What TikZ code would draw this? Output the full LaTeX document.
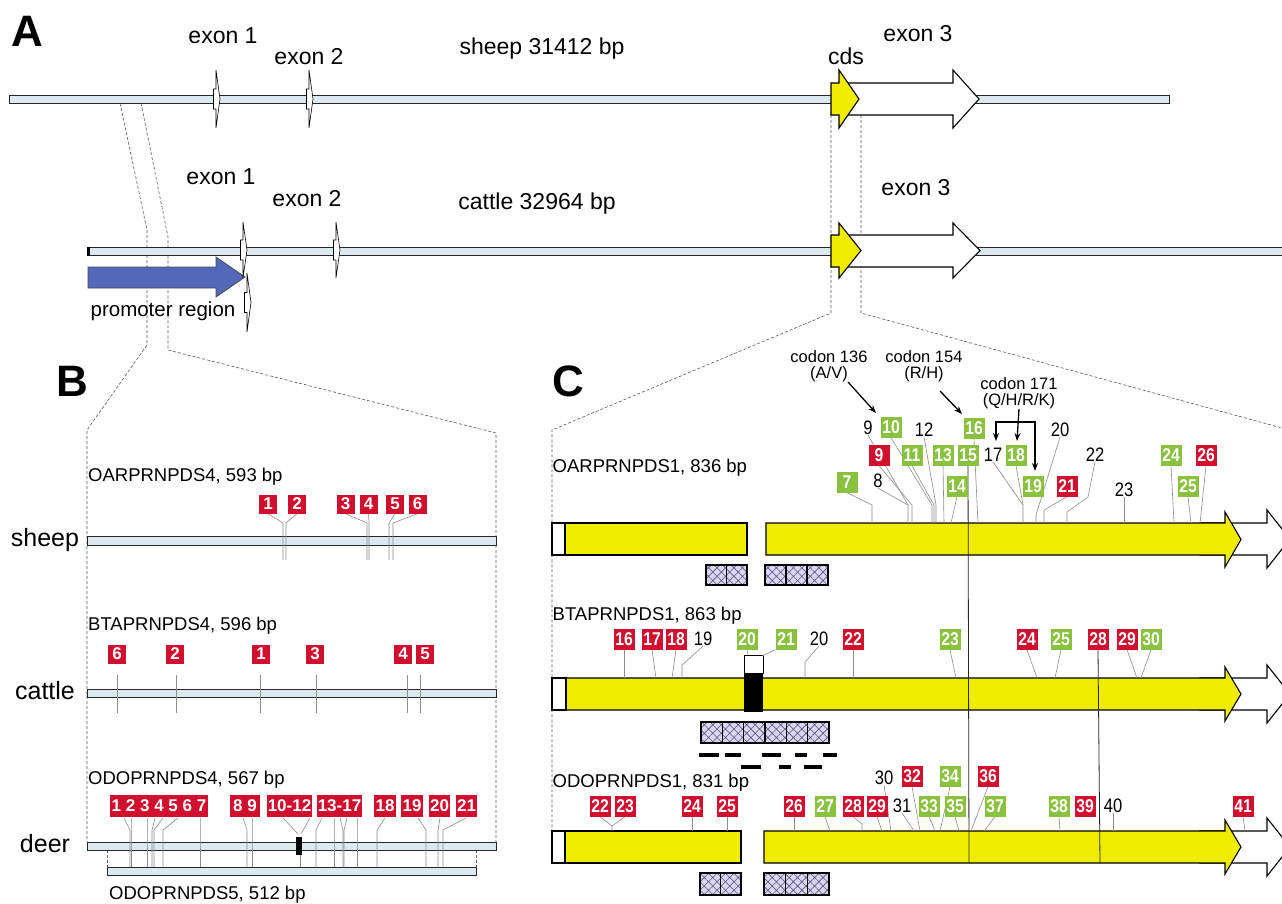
\documentclass[tikz,border=0pt]{standalone}
\usepackage{fontspec}
\setmainfont{Liberation Sans}
\newfontfamily\nbf{Liberation Sans}[FakeStretch=0.85]
\usetikzlibrary{patterns.meta,arrows.meta}
\definecolor{barfill}{RGB}{220,234,240}
\definecolor{myred}{RGB}{208,16,46}
\definecolor{mygreen}{RGB}{138,194,64}
\definecolor{myyellow}{RGB}{240,236,0}
\definecolor{promblue}{RGB}{82,104,184}
\definecolor{hatchfill}{RGB}{218,214,236}
\definecolor{hatchline}{RGB}{92,82,140}
\pgfdeclarelayer{bg}
\pgfdeclarelayer{lead}
\pgfsetlayers{bg,lead,main}
\newcommand\exmk[3]{\draw[exon] ({#1-2.5},{(#2+#3)/2-10}) -- (#1,{(#2+#3)/2-10}) -- (#1,#2) -- ({#1+4},{(#2+#3)/2}) -- (#1,#3) -- (#1,{(#2+#3)/2+10}) -- ({#1-2.5},{(#2+#3)/2+10}) -- cycle;}
\newcommand\blockarrow[8]{\draw[#1] (#2,#5) -- (#3,#5) -- (#3,#7) -- (#4,{(#7+#8)/2}) -- (#3,#8) -- (#3,#6) -- (#2,#6) -- cycle;}
\newcommand\hatchrow[5]{\foreach \i in {1,...,#3}{%
  \fill[hatchfill] ({#1+(\i-1)*#4},#2) rectangle ++(#4,#5);
  \fill[pattern={Hatch[angle=45,distance=6pt,line width=0.6pt]},pattern color=hatchline] ({#1+(\i-1)*#4},#2) rectangle ++(#4,#5);
  \draw[line width=1.2pt] ({#1+(\i-1)*#4},#2) rectangle ++(#4,#5);}}
\newcommand\mkr[5][rbc]{\node[#1] (#2) at (#3,#4) {#5};}
\begin{document}
\begin{tikzpicture}[x=1pt,y=-1pt,
  gbar/.style={draw=black!85, fill=barfill, line width=1pt},
  exon/.style={fill=white, draw=black, line width=0.6pt},
  bigarr/.style={draw=black, line width=1.1pt, line join=miter},
  yel/.style={bigarr, fill=myyellow},
  wht/.style={bigarr, fill=white},
  lbl/.style={font=\fontsize{23}{23}\selectfont, inner sep=0pt},
  plab/.style={font=\bfseries\fontsize{44}{44}\selectfont, inner sep=0pt},
  spc/.style={font=\fontsize{25}{25}\selectfont, inner sep=0pt},
  acc/.style={font=\fontsize{18.5}{18.5}\selectfont, inner sep=0pt, anchor=west},
  rbb/.style={fill=myred, text=white, font=\bfseries\fontsize{17}{17}\selectfont, inner sep=0pt, minimum width=18, minimum height=19},
  rbc/.style={fill=myred, text=white, font=\nbf\bfseries\fontsize{18.5}{18.5}\selectfont, inner sep=0pt, minimum width=21, minimum height=21},
  gbc/.style={rbc, fill=mygreen},
  nm/.style={font=\nbf\fontsize{19.5}{19.5}\selectfont, inner sep=0pt},
  lead/.style={draw=black!45, line width=0.6pt},
  vline/.style={draw=black!85, line width=0.8pt},
  dsh/.style={draw=black!65, dash pattern=on 3pt off 2pt, line width=0.6pt},
  cod/.style={font=\fontsize{16.5}{16}\selectfont, inner sep=0pt, align=center},
  arr/.style={-{Stealth[length=8pt,width=6pt]}, line width=1.3pt},
  barr/.style={{Stealth[length=8pt,width=6pt]}-{Stealth[length=8pt,width=6pt]}, line width=1.3pt},
  ]
\useasboundingbox (0,0) rectangle (1282,903);
\begin{pgfonlayer}{bg}
\fill[white] (0,0) rectangle (1282,903);
% connectors
\draw[dsh] (120,103) -- (147,230) -- (147,345) -- (87,430) -- (87,842);
\draw[dsh] (141,103) -- (168,237) -- (168,350) -- (496,433) -- (496,842);
\draw[dsh] (831,115) -- (831,313) -- (552,430) -- (552,831);
\draw[dsh] (861,115) -- (861,313) -- (1282,428);
% A bars
\draw[gbar] (9,95) rectangle (1169,103);
\draw[gbar] (87,247) rectangle (1290,255);
\fill[black] (86.5,246.5) rectangle (90,255.5);
\blockarrow{wht}{847}{953}{979}{83}{115}{70}{128}
\blockarrow{yel}{831}{839}{859}{83}{115}{70}{128}
\blockarrow{wht}{847}{953}{980}{235}{267}{223}{278}
\blockarrow{yel}{831}{839}{861}{235}{267}{223}{278}
\blockarrow{draw=black!70, line width=0.8pt, fill=promblue}{88}{216}{245}{267}{288}{257}{297}
% B bars
\draw[gbar] (87,536) rectangle (496,545);
\draw[gbar] (87,689) rectangle (496,697);
\draw[gbar] (87,842) rectangle (496,850);
\draw[gbar] (107,867) rectangle (476,875);
\draw[dsh] (107,850) -- (107,867);
\draw[dsh] (476,850) -- (476,867);
\fill[black] (296,837) rectangle (302,855);
% C row 1
\draw[yel] (552,523) rectangle (747,555);
\draw[bigarr, fill=white] (552,523) rectangle (565,555);
\blockarrow{wht}{1200}{1267}{1290}{523}{555}{510}{568}
\blockarrow{yel}{766}{1225}{1241}{523}{555}{512}{567}
% C row 2
\blockarrow{wht}{1200}{1267}{1290}{678}{710}{665}{723}
\blockarrow{yel}{552}{1225}{1241}{678}{710}{667}{721}
\draw[bigarr, fill=white] (552,678) rectangle (566,710);
\draw[fill=white, line width=0.8pt] (744,655) rectangle (763,673);
\fill[black] (744,673) rectangle (763,712);
% C row 3
\draw[yel] (552,831) rectangle (741,863);
\draw[bigarr, fill=white] (552,831) rectangle (565,863);
\blockarrow{wht}{1200}{1267}{1290}{831}{863}{818}{876}
\blockarrow{yel}{764}{1225}{1241}{831}{863}{820}{874}
% hatched boxes
\hatchrow{706}{565}{2}{20.5}{20}
\hatchrow{765}{565}{3}{21}{20}
\hatchrow{701}{722}{6}{21.33}{21}
\hatchrow{700}{873}{2}{20.5}{22}
\hatchrow{764}{873}{3}{21.67}{22}
\foreach \a/\b in {699/719,725/741,762/781,795/807,823/837} \draw[line width=3.5pt] (\a,755) -- (\b,755);
\foreach \a/\b in {741/761,779/791,804/822} \draw[line width=3.5pt] (\a,767) -- (\b,767);
\end{pgfonlayer}
% ---------- A ----------
\node[plab] (labA) at (27,31) {A};
\exmk{216}{70}{128}
\exmk{309}{70}{128}
\exmk{243}{222}{278}
\exmk{336}{222}{278}
\exmk{247}{273}{332}
\node[lbl] (ex1s) at (223,36) {exon 1};
\node[lbl] (ex2s) at (309,57) {exon 2};
\node[lbl] (sp1) at (542,49) {sheep 31412 bp};
\node[lbl] (cds) at (846,56) {cds};
\node[lbl] (ex3s) at (918,34) {exon 3};
\node[lbl] (ex1c) at (221,177) {exon 1};
\node[lbl] (ex2c) at (307,199) {exon 2};
\node[lbl] (sp2) at (537,204) {cattle 32964 bp};
\node[lbl] (ex3c) at (916,188) {exon 3};
\node[font=\fontsize{20.5}{20.5}\selectfont, inner sep=0pt] (prom) at (163,311) {promoter region};
% ---------- B ----------
\node[plab] (labB) at (72,381) {B};
\node[spc] (sheepL) at (45,540) {sheep};
\node[spc] (cattleL) at (45,691) {cattle};
\node[spc] (deerL) at (45,844) {deer};
\node[acc] (accB1) at (88,477) {OARPRNPDS4, 593 bp};
\node[acc] (accB2) at (88,626) {BTAPRNPDS4, 596 bp};
\node[acc] (accB3) at (88,780) {ODOPRNPDS4, 567 bp};
\node[acc] (accB4) at (109,895) {ODOPRNPDS5, 512 bp};
\mkr[rbb]{bs1}{268}{504}{1}
\mkr[rbb]{bs2}{297}{504}{2}
\mkr[rbb]{bs3}{345.5}{504}{3}
\mkr[rbb]{bs4}{368.5}{504}{4}
\mkr[rbb]{bs5}{395}{504}{5}
\mkr[rbb]{bs6}{417.5}{504}{6}
\mkr[rbb]{bc6}{117}{654}{6}
\mkr[rbb]{bc2}{175}{654}{2}
\mkr[rbb]{bc1}{261}{654}{1}
\mkr[rbb]{bc3}{315}{654}{3}
\mkr[rbb]{bc4}{403}{654}{4}
\mkr[rbb]{bc5}{425}{654}{5}
\node[rbb, minimum width=98, minimum height=22] (bd1) at (159,806) {1 2 3 4 5 6 7};
\node[rbb, minimum width=30, minimum height=22] (bd8) at (245,806) {8 9};
\node[rbb, minimum width=45, minimum height=22] (bd10) at (289.5,806) {10-12};
\node[rbb, minimum width=45, minimum height=22] (bd13) at (339.5,806) {13-17};
\node[rbb, minimum width=22, minimum height=22] (bd18) at (385,806) {18};
\node[rbb, minimum width=22, minimum height=22] (bd19) at (412,806) {19};
\node[rbb, minimum width=21, minimum height=22] (bd20) at (439.5,806) {20};
\node[rbb, minimum width=21, minimum height=22] (bd21) at (466.5,806) {21};
% ---------- C ----------
\node[plab] (labC) at (568,381) {C};
\node[acc] (accC1) at (552.5,468) {OARPRNPDS1, 836 bp};
\node[acc] (accC2) at (552.5,616) {BTAPRNPDS1, 863 bp};
\node[acc] (accC3) at (552.5,783) {ODOPRNPDS1, 831 bp};
\node[cod] (cod136) at (829,366.5) {codon 136\\(A/V)};
\node[cod] (cod154) at (924,366.5) {codon 154\\(R/H)};
\node[cod] (cod171) at (1019,393) {codon 171\\(Q/H/R/K)};
\coordinate (s136) at (848,382); \coordinate (t136) at (876,413);
\coordinate (s154) at (940,391); \coordinate (t154) at (962,414);
\coordinate (b1) at (996,441); \coordinate (b2) at (996,422);
\coordinate (b3) at (1035,422); \coordinate (b4) at (1035,471);
\coordinate (b5) at (1017,441);
\draw[arr] (s136) -- (t136);
\draw[arr] (s154) -- (t154);
\draw[barr] (b1) -- (b2) -- (b3) -- (b4);
\draw[arr] (cod171.south) -- (b5);
% row 1
\mkr[nm]{c1n9}{868}{428}{9}
\mkr[gbc]{c1g10}{891}{427}{10}
\mkr[rbc]{c1r9}{879}{455}{9}
\mkr[gbc]{c1g11}{912}{455}{11}
\mkr[gbc]{c1g7}{847}{482}{7}
\mkr[nm]{c1n8}{878}{481}{8}
\mkr[nm]{c1n12}{924}{430}{12}
\mkr[gbc]{c1g16}{974}{428}{16}
\mkr[gbc]{c1g13}{943}{455}{13}
\mkr[gbc]{c1g15}{968}{455}{15}
\mkr[nm]{c1n17}{993}{455}{17}
\mkr[gbc]{c1g18}{1016}{455}{18}
\mkr[nm]{c1n20}{1060}{430}{20}
\mkr[nm]{c1n22}{1095}{455}{22}
\mkr[gbc]{c1g14}{957}{486}{14}
\mkr[gbc]{c1g19}{1033}{486}{19}
\mkr[rbc]{c1r21}{1067}{486}{21}
\mkr[nm]{c1n23}{1124}{490}{23}
\mkr[gbc]{c1g24}{1171}{455}{24}
\mkr[rbc]{c1r26}{1206}{455}{26}
\mkr[gbc]{c1g25}{1188}{486}{25}
% row 2
\mkr[rbc]{c2r16}{624}{639}{16}
\mkr[rbc]{c2r17}{652}{639}{17}
\mkr[rbc]{c2r18}{676}{639}{18}
\mkr[nm]{c2n19}{703}{639}{19}
\mkr[gbc]{c2g20}{747}{639}{20}
\mkr[gbc]{c2g21}{786}{639}{21}
\mkr[nm]{c2n20}{819}{639}{20}
\mkr[rbc]{c2r22}{853}{639}{22}
\mkr[gbc]{c2g23}{950}{639}{23}
\mkr[rbc]{c2r24}{1027}{639}{24}
\mkr[gbc]{c2g25}{1061}{639}{25}
\mkr[rbc]{c2r28}{1098}{639}{28}
\mkr[rbc]{c2r29}{1127}{639}{29}
\mkr[gbc]{c2g30}{1151}{639}{30}
% row 3
\mkr[nm]{c3n30}{884}{778}{30}
\mkr[rbc]{c3r32}{912}{776}{32}
\mkr[gbc]{c3g34}{950}{776}{34}
\mkr[rbc]{c3r36}{988}{776}{36}
\mkr[rbc]{c3r22}{600}{806}{22}
\mkr[rbc]{c3r23}{625}{806}{23}
\mkr[rbc]{c3r24}{692}{806}{24}
\mkr[rbc]{c3r25}{727}{806}{25}
\mkr[rbc]{c3r26}{794}{806}{26}
\mkr[gbc]{c3g27}{825}{806}{27}
\mkr[rbc]{c3r28}{853}{806}{28}
\mkr[rbc]{c3r29}{877}{806}{29}
\mkr[nm]{c3n31}{902}{806}{31}
\mkr[gbc]{c3g33}{929}{806}{33}
\mkr[gbc]{c3g35}{955}{806}{35}
\mkr[gbc]{c3g37}{995}{806}{37}
\mkr[gbc]{c3g38}{1059}{806}{38}
\mkr[rbc]{c3r39}{1085}{806}{39}
\mkr[nm]{c3n40}{1113}{806}{40}
\mkr[rbc]{c3r41}{1243}{806}{41}
% ---------- leaders ----------
\begin{pgfonlayer}{lead}
\draw[lead] (bs1.south) -- (283,523) -- (283,560);
\draw[lead] (bs2.south) -- (286,523) -- (286,560);
\draw[lead] (bs3.south) -- (367,523) -- (367,560);
\draw[lead] (bs4.south) -- (369,523) -- (369,560);
\draw[lead] (bs5.south) -- (389,523) -- (389,560);
\draw[lead] (bs6.south) -- (393,523) -- (393,560);
\foreach \x in {117,176,260,316,407,420} \draw[lead] (\x,675) -- (\x,713);
\foreach \a/\b in {124/130,131/131,147/147,155/152,163/154,178/163,200/200,243/247,252/252,322/316,334/334,340/343,347/344,357/357,385/377,418/426,440/438,466/443}
  \draw[lead] (\a,818) -- (\b,830) -- (\b,867);
\draw[lead] (283,818) -- (298,834);
\draw[lead] (310,818) -- (301,834);
\draw[lead] (300,855) -- (300,867);
% C row 1
\draw[lead] (c1g7.south) -- (872,505) -- (872,523);
\draw[lead] (c1n8.south) -- (908,505) -- (908,523);
\draw[lead] (c1n9.south) -- (908,505);
\draw[lead] (c1r9.south) -- (912,505) -- (912,523);
\draw[lead] (c1g10.south) -- (932,505) -- (932,523);
\draw[lead] (c1g11.south) -- (934,505) -- (934,523);
\draw[lead] (c1n12.south) -- (936,505) -- (936,523);
\draw[lead] (c1g13.south) -- (944,523);
\draw[lead] (c1g14.south) -- (951,523);
\draw[lead] (c1g16.south) -- (978,523);
\draw[lead] (c1n17.south) -- (1023,505) -- (1023,523);
\draw[lead] (c1g18.south) -- (1023,505);
\draw[lead] (c1n20.south) -- (1036,515) -- (1036,523);
\draw[lead] (c1r21.south) -- (1044,510) -- (1044,523);
\draw[lead] (c1n22.south) -- (1088,497) -- (1067,512) -- (1067,523);
\draw[lead] (c1n23.south) -- (1124,523);
\draw[lead] (c1g24.south) -- (1174,523);
\draw[lead] (c1g25.south) -- (1191,523);
\draw[lead] (c1r26.south) -- (1200,523);
\coordinate (v1b) at (969,863);
\coordinate (v2b) at (1100,863);
\draw[vline] (c1g15.south) -- (v1b);
\draw[vline] (c2r28.south) -- (v2b);
% C row 2
\draw[lead] (c2r16.south) -- (624,678);
\draw[lead] (c2r17.south) -- (656,678);
\draw[lead] (c2r18.south) -- (672,678);
\draw[lead] (c2n19.south) -- (682,665) -- (682,678);
\draw[lead] (c2g20.south) -- (748,655);
\draw[lead] (c2g21.south west) -- (762,656);
\draw[lead] (c2n20.south) -- (805,662) -- (805,678);
\draw[lead] (c2r22.south) -- (853,678);
\draw[lead] (c2g23.south) -- (956,678);
\draw[lead] (c2r24.south) -- (1037,678);
\draw[lead] (c2g25.south) -- (1055,678);
\draw[lead] (c2r29.south) -- (1137,678);
\draw[lead] (c2g30.south) -- (1141,678);
% C row 3
\draw[lead] (c3r22.south) -- (612,826) -- (612,831);
\draw[lead] (c3r23.south) -- (612,826);
\draw[lead] (c3r24.south) -- (692,831);
\draw[lead] (c3r25.south) -- (727,831);
\draw[lead] (c3r26.south) -- (794,831);
\draw[lead] (c3g27.south) -- (830,831);
\draw[lead] (c3r28.south) -- (862,824) -- (862,831);
\draw[lead] (c3r29.south) -- (882,831);
\draw[lead] (c3n30.south) -- (891,831);
\draw[lead] (c3n31.south) -- (914,831);
\draw[lead] (c3r32.south) -- (920,831);
\draw[lead] (c3g33.south) -- (935,831);
\draw[lead] (c3g34.south) -- (940,831);
\draw[lead] (c3g35.south) -- (959,831);
\draw[lead] (c3r36.south) -- (971,831);
\draw[lead] (c3g37.south) -- (984,831);
\draw[lead] (c3g38.south) -- (1060,831);
\draw[lead] (c3n40.south) -- (1113,831);
\draw[lead] (c3r41.south) -- (1245,831);
\end{pgfonlayer}
\end{tikzpicture}
\end{document}
